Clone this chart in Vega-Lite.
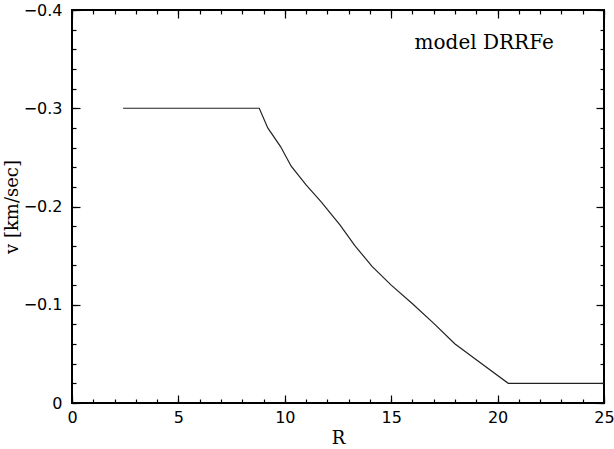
{
  "$schema": "https://vega.github.io/schema/vega-lite/v6.json",
  "width": 532,
  "height": 393,
  "autosize": {"type": "none"},
  "padding": {"left": 72, "top": 10, "right": 10, "bottom": 46},
  "background": "#ffffff",
  "config": {
    "view": {"stroke": "#000000", "strokeWidth": 2},
    "axis": {
      "domain": false,
      "grid": false,
      "ticks": true,
      "labelFlush": false,
      "labelOverlap": false,
      "tickColor": "#000000",
      "tickWidth": 1.2,
      "labelFont": "DejaVu Sans",
      "labelFontSize": 16,
      "labelColor": "#000000",
      "titleFont": "DejaVu Serif",
      "titleFontSize": 18,
      "titleFontWeight": "normal",
      "titleColor": "#000000"
    }
  },
  "data": {
    "values": [
      {"R": 2.4, "v": -0.3},
      {"R": 8.8, "v": -0.3},
      {"R": 9.2, "v": -0.28},
      {"R": 9.8, "v": -0.261},
      {"R": 10.3, "v": -0.241},
      {"R": 11.0, "v": -0.222},
      {"R": 11.7, "v": -0.205},
      {"R": 12.6, "v": -0.181},
      {"R": 13.3, "v": -0.16},
      {"R": 14.1, "v": -0.139},
      {"R": 15.0, "v": -0.12},
      {"R": 16.0, "v": -0.101},
      {"R": 17.0, "v": -0.081},
      {"R": 18.0, "v": -0.06},
      {"R": 19.0, "v": -0.044},
      {"R": 20.5, "v": -0.02},
      {"R": 25.0, "v": -0.02}
    ]
  },
  "layer": [
    {
      "mark": {"type": "line", "color": "#222222", "strokeWidth": 1.2},
      "encoding": {
        "x": {
          "field": "R",
          "type": "quantitative",
          "scale": {"domain": [0, 25], "nice": false, "zero": false},
          "axis": {
            "orient": "bottom",
            "title": "R",
            "values": [0, 5, 10, 15, 20, 25],
            "tickSize": -8,
            "format": "d",
            "labelPadding": 14,
            "titlePadding": 4
          }
        },
        "y": {
          "field": "v",
          "type": "quantitative",
          "scale": {"domain": [-0.4, 0], "nice": false, "zero": false, "reverse": true},
          "axis": {
            "orient": "left",
            "title": "v [km/sec]",
            "values": [-0.4, -0.3, -0.2, -0.1, 0],
            "tickSize": -8,
            "labelExpr": "datum.value === 0 ? '0' : format(datum.value, '.1f')",
            "labelPadding": 18,
            "titlePadding": 2
          }
        }
      }
    },
    {
      "mark": {"type": "point", "opacity": 0},
      "encoding": {
        "x": {
          "field": "R",
          "type": "quantitative",
          "scale": {"domain": [0, 25], "nice": false, "zero": false},
          "axis": {
            "orient": "bottom",
            "title": null,
            "labels": false,
            "values": [0,1,2,3,4,5,6,7,8,9,10,11,12,13,14,15,16,17,18,19,20,21,22,23,24,25],
            "tickSize": -4
          }
        },
        "y": {
          "field": "v",
          "type": "quantitative",
          "scale": {"domain": [-0.4, 0], "nice": false, "zero": false, "reverse": true},
          "axis": {
            "orient": "left",
            "title": null,
            "labels": false,
            "values": [-0.4,-0.38,-0.36,-0.34,-0.32,-0.3,-0.28,-0.26,-0.24,-0.22,-0.2,-0.18,-0.16,-0.14,-0.12,-0.1,-0.08,-0.06,-0.04,-0.02,0],
            "tickSize": -4
          }
        }
      }
    },
    {
      "data": {"values": [{"R": 16.1, "v": -0.36, "label": "model DRRFe"}]},
      "mark": {"type": "text", "align": "left", "baseline": "alphabetic", "font": "DejaVu Serif", "fontSize": 20, "color": "#000000"},
      "encoding": {
        "x": {
          "field": "R",
          "type": "quantitative",
          "scale": {"domain": [0, 25], "nice": false, "zero": false},
          "axis": {
            "orient": "top",
            "title": null,
            "labels": false,
            "values": [0, 5, 10, 15, 20, 25],
            "tickSize": -8
          }
        },
        "y": {
          "field": "v",
          "type": "quantitative",
          "scale": {"domain": [-0.4, 0], "nice": false, "zero": false, "reverse": true},
          "axis": {
            "orient": "right",
            "title": null,
            "labels": false,
            "values": [-0.4, -0.3, -0.2, -0.1, 0],
            "tickSize": -8
          }
        },
        "text": {"field": "label"}
      }
    },
    {
      "mark": {"type": "point", "opacity": 0},
      "encoding": {
        "x": {
          "field": "R",
          "type": "quantitative",
          "scale": {"domain": [0, 25], "nice": false, "zero": false},
          "axis": {
            "orient": "top",
            "title": null,
            "labels": false,
            "values": [0,1,2,3,4,5,6,7,8,9,10,11,12,13,14,15,16,17,18,19,20,21,22,23,24,25],
            "tickSize": -4
          }
        },
        "y": {
          "field": "v",
          "type": "quantitative",
          "scale": {"domain": [-0.4, 0], "nice": false, "zero": false, "reverse": true},
          "axis": {
            "orient": "right",
            "title": null,
            "labels": false,
            "values": [-0.4,-0.38,-0.36,-0.34,-0.32,-0.3,-0.28,-0.26,-0.24,-0.22,-0.2,-0.18,-0.16,-0.14,-0.12,-0.1,-0.08,-0.06,-0.04,-0.02,0],
            "tickSize": -4
          }
        }
      }
    }
  ],
  "resolve": {"axis": {"x": "independent", "y": "independent"}}
}
